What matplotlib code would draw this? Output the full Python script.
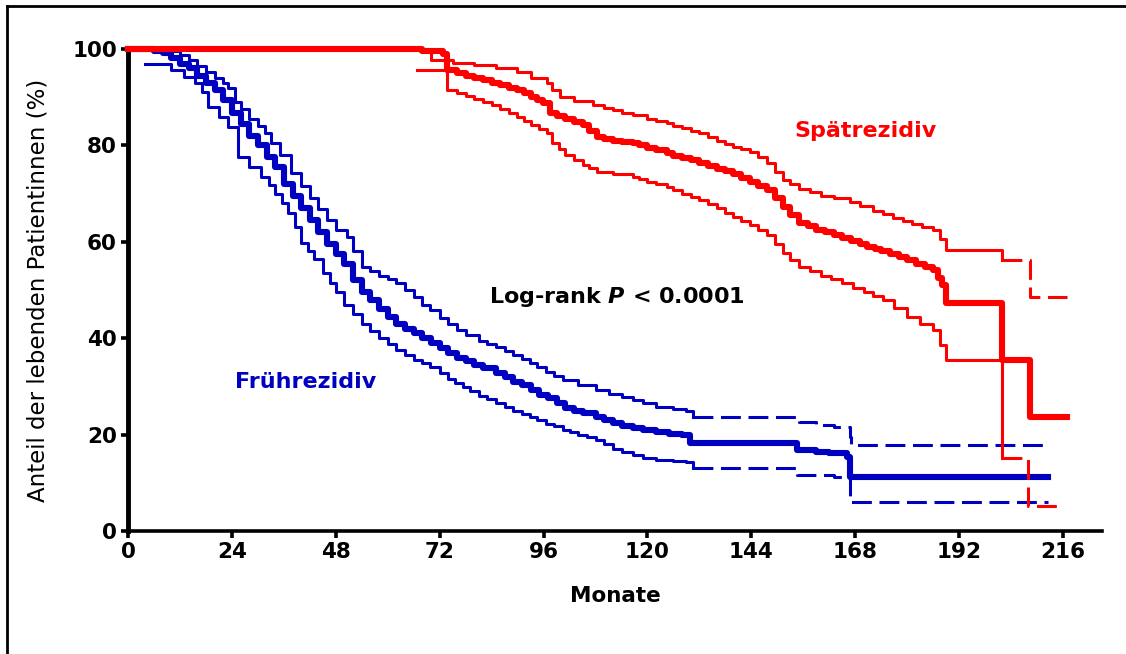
import matplotlib
matplotlib.use("Agg")
import matplotlib.pyplot as plt
from matplotlib.lines import Line2D

# Kaplan-Meier curves (month, percent alive)
frueh_months = [0, 6, 8, 10, 12, 14, 16, 18, 20, 22, 24, 26, 28, 30, 32, 34, 36, 38, 40,
                42, 44, 46, 48, 50, 52, 54, 56, 58, 60, 62, 64, 66, 68, 70, 72, 74, 76, 78,
                80, 82, 85, 87, 89, 91, 93, 95, 97, 99, 101, 103, 105, 108, 110, 112, 114,
                116.6, 119, 122, 125, 128, 129.8, 154.5, 159, 162, 166, 166.7, 212.5]
frueh_pct = [100, 99.6, 99.2, 98.2, 97, 96, 94.5, 93, 91.5, 89.5, 86.7, 84.5, 82, 80, 77.5,
             75.5, 72, 69.5, 67, 64.5, 62, 59.5, 57.5, 55.5, 52, 49.5, 48, 46, 44.5, 43, 42,
             41, 40, 39, 38, 37, 36, 35.3, 34.5, 33.8, 32.8, 32, 31, 30.2, 29.3, 28.3, 27.5,
             26.5, 25.5, 25, 24.5, 23.7, 23, 22.5, 21.8, 21.4, 21, 20.6, 20.2, 19.9, 18.3,
             16.8, 16.5, 16.2, 15.4, 11.2, 11.2]

frueh_up_months = [5, 10, 12, 14, 16, 18, 20, 22, 23, 24.7, 26, 28, 30, 31.6, 33, 35, 37.6,
                   40, 42, 44, 46, 48, 50.5, 52, 54, 56, 58, 60, 62, 64, 66, 68, 69.7, 72,
                   74, 76, 78, 81, 83, 85, 87, 89, 91, 92.8, 94.5, 96.5, 98.5, 100.5, 104,
                   108, 111, 114, 116.6, 119, 122, 126, 129, 130.5, 155, 159, 163, 166.7,
                   167, 212.5]
frueh_up_pct = [100, 99.5, 98.8, 97.8, 96.5, 95.3, 94, 93, 92, 89, 87.5, 85.5, 84, 82.6,
                80.5, 78, 74.3, 71.5, 69, 66.8, 64.5, 62.5, 61, 58, 54.8, 54, 53, 52.3, 51.4,
                50, 48.5, 47, 45.8, 44.3, 43, 41.8, 40.7, 39.5, 38.8, 38.2, 37.3, 36.5,
                35.6, 34.8, 34, 33, 32.2, 31.3, 30.3, 29.3, 28.5, 27.8, 27.2, 26.5, 25.7,
                25.3, 25, 23.7, 22.6, 22.1, 21.6, 19.5, 17.8, 17.8]

frueh_lo_months = [4, 10, 13, 15.5, 17, 18.5, 21, 23, 25.4, 28, 30.7, 32.5, 34, 35.5, 37,
                   38.5, 40, 41.5, 43, 45, 46.6, 48, 50, 52, 54, 56, 58, 60, 62, 64, 66, 68,
                   69.7, 72, 74, 75.5, 77.4, 79, 81, 83, 85, 87, 89, 91, 92.8, 94.5, 96.5,
                   98.5, 100.5, 102, 104, 106, 108, 110, 112, 114, 116.6, 119, 122, 126,
                   129, 130.5, 154.5, 163, 166.7, 212.5]
frueh_lo_pct = [97, 95.6, 94.3, 93, 91, 88, 86, 83.8, 77.6, 75.5, 73.4, 71.8, 70, 68, 66,
                63, 59.8, 58, 56.5, 53.5, 51.4, 49.5, 47, 45, 43, 41.5, 40, 38.8, 37.5, 36.5,
                35.5, 34.8, 34, 32.7, 31.5, 30.7, 29.9, 29, 28, 27.3, 26.5, 25.8, 25, 24.3,
                23.7, 23, 22.3, 21.7, 21, 20.5, 20, 19.5, 18.9, 18, 17, 16.5, 15.8, 15.2,
                14.7, 14.5, 14.3, 13.1, 11.6, 11.2, 6.0, 6.0]

spaet_months = [0, 68, 72.7, 73.6, 76, 78, 80, 82, 84, 86, 88, 89.8, 91.5, 93, 94.5, 95.8,
                97.4, 99, 101, 103, 105, 106.5, 108.3, 110, 112, 114, 116.6, 118, 120, 122,
                124.5, 126, 128, 130, 132, 134, 136, 138, 139.7, 141.5, 143.6, 145.5, 147.5,
                149.5, 151.3, 153, 155, 157, 159, 161, 163, 165, 167, 169, 170.7, 172.5,
                174, 176, 178, 180, 182, 184, 186, 187, 188, 189, 202, 208.3, 216.8]
spaet_pct = [100, 99.5, 99, 95.6, 95, 94.5, 94, 93.6, 93, 92.5, 92, 91.5, 90.8, 90, 89.4,
             88.8, 86.7, 86.2, 85.5, 84.8, 84.2, 83, 81.8, 81.4, 81, 80.8, 80.5, 80, 79.5,
             79, 78.4, 77.9, 77.4, 76.9, 76.3, 75.8, 75.2, 74.6, 74, 73.2, 72.4, 71.5, 70.7,
             69, 67.2, 65.5, 63.9, 63.2, 62.5, 62, 61.4, 60.8, 60.2, 59.6, 59, 58.5, 58,
             57.4, 56.8, 56.2, 55.5, 54.8, 54.1, 52.5, 51, 47.3, 35.5, 23.7, 23.7]

spaet_up_months = [67, 70, 75, 80, 85, 89.8, 93, 96.7, 98, 99.8, 103, 107.4, 110, 112, 114,
                   116.6, 120, 122, 124.5, 126, 128, 130, 132, 134, 136, 138, 139.7, 141.5,
                   143.6, 145.5, 147.5, 149.5, 151.3, 153, 155, 157.5, 160, 163, 166.7, 169,
                   172, 174.5, 176.7, 179, 181, 183.5, 186, 187.5, 189, 202, 208.3, 216.8]
spaet_up_pct = [100, 97.7, 97.2, 96.7, 96, 95.2, 94, 93, 91.5, 90, 89.2, 88.4, 87.8, 87.3,
                86.8, 86.3, 85.5, 85, 84.6, 84.1, 83.6, 83.1, 82.6, 81.8, 81, 80.3, 79.7,
                79.2, 78.6, 77.5, 76.3, 74.5, 72.8, 71.9, 71, 70.3, 69.6, 69, 68.3, 67.5,
                66.5, 65.8, 65, 64.4, 63.8, 63.1, 62.4, 60.5, 58.3, 56.2, 48.5, 48.5]

spaet_lo_months = [66.7, 73.6, 76, 78, 80, 82, 84, 86, 88, 89.8, 91.5, 93, 95, 96.7, 98,
                   99.5, 101, 103, 105, 106.5, 108.3, 112, 116.6, 118, 120, 122, 124.5, 126,
                   128, 130, 132, 134, 136, 138, 139.7, 141.5, 143.6, 145.5, 147.5, 149.5,
                   151.3, 153, 155, 157.5, 160, 162.5, 165, 167.5, 170, 172, 174.4, 177, 180,
                   183, 186, 187.5, 189, 202, 207.8, 216.3]
spaet_lo_pct = [95.6, 91.5, 90.9, 90.3, 89.7, 89, 88.3, 87.5, 86.7, 85.9, 85.1, 84.3, 83.5,
                82.6, 80.5, 79.3, 78, 77, 76, 75.3, 74.5, 74, 73.4, 73, 72.5, 72, 71.4, 70.7,
                70, 69.4, 68.7, 67.8, 67, 66, 65.1, 64.3, 63.5, 62.5, 61.4, 59.5, 57.7, 56.2,
                54.8, 53.9, 53, 52.2, 51.5, 50.5, 49.5, 48.8, 48, 46.2, 44.4, 43, 41.7, 38.5,
                35.5, 15.1, 5.2, 5.2]

x_ticks = [0, 24, 48, 72, 96, 120, 144, 168, 192, 216]
y_ticks = [0, 20, 40, 60, 80, 100]

BLUE = "#0000c0"
RED = "#ff0000"
FONT = ["DejaVu Sans"]

plt.rcParams["mathtext.fontset"] = "custom"
plt.rcParams["mathtext.it"] = "DejaVu Sans:italic:bold"


def km_line(ax, months, pct, color, lw, dash_from=None, z=3):
    # solid part up to dash_from, dashed afterwards
    if dash_from is None:
        ax.step(months, pct, where="post", color=color, lw=lw, zorder=z, clip_on=False)
        return
    i = months.index(dash_from)
    ax.step(months[:i + 1], pct[:i + 1], where="post", color=color, lw=lw,
            zorder=z, clip_on=False)
    ax.step(months[i:], pct[i:], where="post", color=color, lw=lw, zorder=z,
            clip_on=False, linestyle=(0, (6.5, 2.5)))


fig = plt.figure(figsize=(11.26, 6.54), dpi=100)
ax = fig.add_axes([0.1137, 0.188, 0.865, 0.737])

km_line(ax, frueh_up_months, frueh_up_pct, BLUE, 2.2, dash_from=130.5)
km_line(ax, frueh_lo_months, frueh_lo_pct, BLUE, 2.2, dash_from=130.5)
km_line(ax, frueh_months, frueh_pct, BLUE, 4.4)
km_line(ax, spaet_up_months, spaet_up_pct, RED, 2.2, dash_from=202, z=4)
km_line(ax, spaet_lo_months, spaet_lo_pct, RED, 2.2, dash_from=202, z=4)
km_line(ax, spaet_months, spaet_pct, RED, 4.4, z=5)

ax.set_xlim(0, 225)
ax.set_ylim(0, 100)
ax.set_xticks(x_ticks)
ax.set_yticks(y_ticks)
ax.spines["top"].set_visible(False)
ax.spines["right"].set_visible(False)
ax.spines["left"].set_linewidth(3.5)
ax.spines["bottom"].set_linewidth(2.6)
ax.tick_params(axis="both", direction="out", length=5, width=2.6, pad=3,
               labelsize=15.5)
for lab in ax.get_xticklabels() + ax.get_yticklabels():
    lab.set_fontweight("bold")
    lab.set_family(FONT)

ax.set_xlabel("Monate", fontsize=15.5, fontweight="bold", family=FONT, labelpad=17)
ax.set_ylabel("Anteil der lebenden Patientinnen (%)", fontsize=16.5, family=FONT,
              labelpad=16)

ax.text(0.182, 0.309, "Frührezidiv", transform=ax.transAxes, color=BLUE,
        fontsize=16, fontweight="bold", family=FONT, ha="center", va="center")
ax.text(0.757, 0.830, "Spätrezidiv", transform=ax.transAxes, color=RED,
        fontsize=16, fontweight="bold", family=FONT, ha="center", va="center")
ax.text(0.502, 0.485, "Log-rank $P$ < 0.0001", transform=ax.transAxes,
        color="black", fontsize=16, fontweight="bold", family=FONT,
        ha="center", va="center")

# frame lines of the original picture (top and left only)
fig.add_artist(Line2D([0.006, 1.0], [0.991, 0.991], color="black", lw=2.0))
fig.add_artist(Line2D([0.0062, 0.0062], [0.0, 0.991], color="black", lw=2.0))

fig.savefig("out.png", dpi=100, facecolor="white")
